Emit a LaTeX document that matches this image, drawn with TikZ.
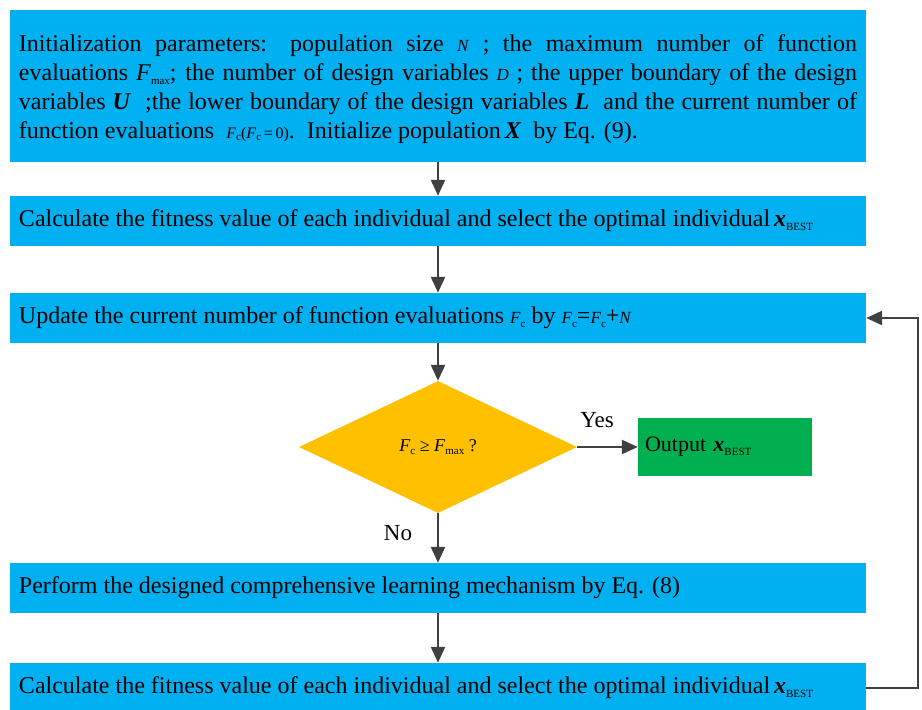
\documentclass[tikz,border=0pt]{standalone}
\usepackage{fontspec}
\setmainfont{Liberation Serif}
\usetikzlibrary{arrows.meta,shapes.geometric}
\definecolor{boxblue}{HTML}{00B0F0}
\definecolor{decor}{HTML}{FFC000}
\definecolor{outgreen}{HTML}{00B050}
\definecolor{linegray}{HTML}{404040}
\newcommand{\vsub}[1]{\raisebox{-0.35ex}{\fontsize{11}{11}\selectfont #1}}
\newcommand{\smi}[1]{{\fontsize{17}{17}\selectfont\textit{#1}}}
\newcommand{\xbest}{\textbf{\textit{x}}\vsub{BEST}}
\tikzset{
  stepbox/.style={rectangle, fill=boxblue, minimum width=856pt, minimum height=50pt,
    text width=838pt, align=justify, inner sep=0pt, font=\fontsize{24}{29}\selectfont},
  conn/.style={draw=linegray, line width=2.5pt, -{Triangle[length=16pt,width=14pt]}},
  lbl/.style={font=\fontsize{23}{23}\selectfont, inner sep=0pt}
}
\begin{document}
\begin{tikzpicture}[x=1pt,y=-1pt]
\useasboundingbox (0,0) rectangle (922,710);
\node[stepbox, minimum height=152pt] (init) at (438,86) {};
\node[stepbox, fill=none] (inittext) at (438,89) {Initialization parameters: population size \smi{N} ; the maximum number of function\linebreak evaluations \textit{F}\vsub{max}; the number of design variables \smi{D} ; the upper boundary of the design\linebreak variables \textbf{\textit{U}} \ ;the lower boundary of the design variables \textbf{\textit{L}} \ and the current number of\linebreak function evaluations \ {\fontsize{16}{16}\selectfont\textit{F}\vsub{c}(\textit{F}\vsub{c}\,=\,0)}.\ \ Initialize population\,\textbf{\textit{X}} \ by Eq. (9).};
\node[stepbox] (calc1) at (438,221) {Calculate the fitness value of each individual and select the optimal individual\,\xbest};
\node[stepbox] (update) at (438,318) {Update the current number of function evaluations \smi{F}\vsub{c} by \smi{F}\vsub{c}=\smi{F}\vsub{c}+\smi{N}};
\node[diamond, fill=decor, minimum width=278pt, minimum height=132pt, aspect=2.1, inner sep=0pt,
  font=\fontsize{18}{18}\selectfont] (check) at (438,447) {\textit{F}\vsub{c} ≥ \textit{F}\vsub{max} ?};
\node[rectangle, fill=outgreen, minimum width=174pt, minimum height=58pt, text width=160pt,
  align=left, inner sep=0pt, font=\fontsize{22}{22}\selectfont] (out) at (725,447) {Output \xbest};
\node[stepbox] (learn) at (438,588) {Perform the designed comprehensive learning mechanism by Eq. (8)};
\node[stepbox] (calc2) at (438,688) {Calculate the fitness value of each individual and select the optimal individual\,\xbest};
\node[lbl] (yes) at (597,420) {Yes};
\node[lbl] (no) at (398,533) {No};
\draw[conn] (init) -- (calc1);
\draw[conn] (calc1) -- (update);
\draw[conn] (update) -- (check);
\draw[conn] (check.east) -- (out.west);
\draw[conn] (check.south) -- (learn.north);
\draw[conn] (learn) -- (calc2);
\draw[conn] (calc2.east) -- ++(52,0) |- (update.east);
\end{tikzpicture}
\end{document}
